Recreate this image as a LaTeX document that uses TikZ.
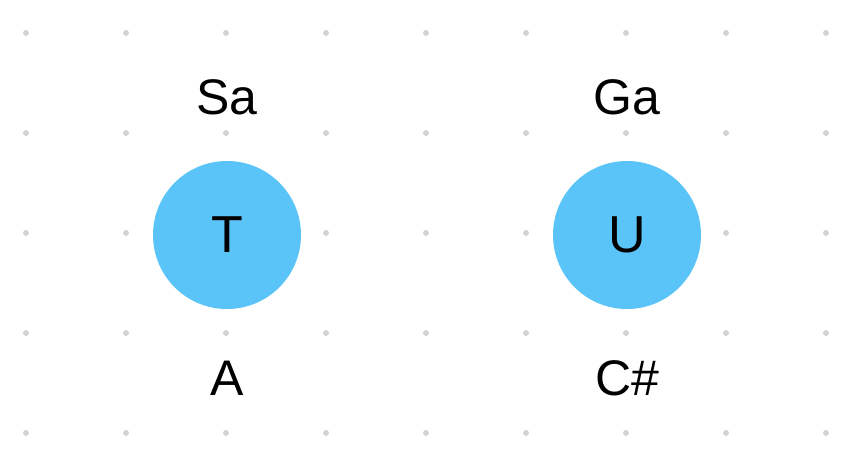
\documentclass[tikz,border=0pt]{standalone}
\usepackage{fontspec}
\setmainfont{Liberation Sans}
\usetikzlibrary{positioning}
\definecolor{noteblue}{HTML}{5AC4F8}
\definecolor{griddot}{HTML}{D3D3D3}
\tikzset{
  note/.style={circle, fill=noteblue, minimum size=148pt, inner sep=0pt, font=\fontsize{52}{52}\selectfont},
  notename/.style={font=\fontsize{50}{50}\selectfont, inner sep=0pt}
}

\begin{document}
\begin{tikzpicture}[x=1pt,y=-1pt]
    \useasboundingbox (0,0) rectangle (854,468);
    % Grid dots
    \foreach \i in {0,...,8}
      \foreach \j in {0,...,4}
        \fill [griddot] (26+100*\i,33+100*\j) circle (3pt);
    % Place nodes
    \node [note] (T) at (227,235) {T};
    \node [note] (U) at (627,235) {U};
    \node [notename] (sa) at (227,97) {Sa};
    \node [notename] (a) at (227,378) {A};
    \node [notename] (ga) at (627,97) {Ga};
    \node [notename] (cs) at (627,378) {C\#};
\end{tikzpicture}
\end{document}
